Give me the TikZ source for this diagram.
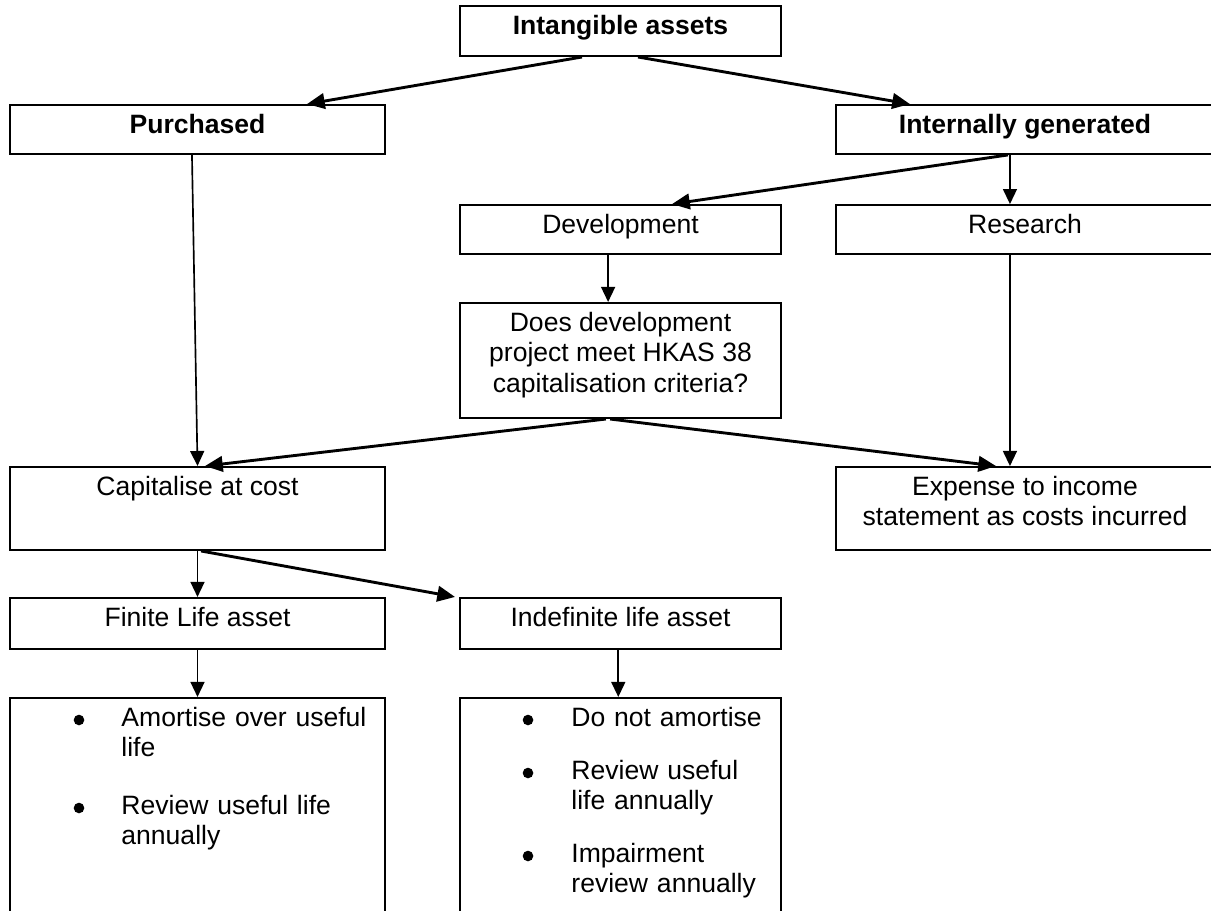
\documentclass[tikz,border=0pt]{standalone}
\usepackage{fontspec}
\setmainfont{Liberation Sans}
\usepackage{tikz}
\usetikzlibrary{arrows.meta,positioning}
\newcommand{\chartfont}{\fontsize{12}{13.8}\selectfont}
\tikzset{
  box/.style={draw=black,line width=0.9pt,inner sep=0pt},
  colL/.style={box,minimum width=169.5pt},
  colM/.style={box,minimum width=145.1pt},
  colR/.style={box,minimum width=170.9pt},
  boxtext/.style={inner sep=0pt,align=center},
  boldtext/.style={boxtext,font=\chartfont\bfseries},
  item/.style={inner sep=0pt,align=left,text width=115pt},
  dot/.style={circle,fill=black,inner sep=0pt,minimum size=4.8pt},
  arrow/.style={-{Triangle[length=8pt,width=7pt]},line width=1.3pt},
  thinArrow/.style={-{Triangle[length=6.8pt,width=6.3pt]},line width=0.75pt}
}

\begin{document}
\begin{tikzpicture}[x=0.452pt,y=-0.452pt,font=\chartfont]
  \useasboundingbox (0,0) rectangle (1211,910);
  \node[colM,minimum height=22.6pt] (top) at (620.5,31) {};
  \node[colL,minimum height=22.1pt] (purch) at (197.5,129.5) {};
  \node[colR,minimum height=22.1pt] (intern) at (1025,129.5) {};
  \node[colM,minimum height=22.1pt] (dev) at (620.5,229.5) {};
  \node[colR,minimum height=22.1pt] (res) at (1025,229.5) {};
  \node[colM,minimum height=52pt] (crit) at (620.5,360.5) {};
  \node[colL,minimum height=37.5pt] (cap) at (197.5,508.5) {};
  \node[colR,minimum height=37.5pt] (exp) at (1025,508.5) {};
  \node[colL,minimum height=23.1pt] (fin) at (197.5,623.5) {};
  \node[colM,minimum height=23.1pt] (indef) at (620.5,623.5) {};
  \node[colL,minimum height=104.9pt] (finbox) at (197.5,814) {};
  \node[colM,minimum height=104.9pt] (indefbox) at (620.5,814) {};

  \node[boldtext,below=4.3pt of top.north] (topT) {Intangible assets};
  \node[boldtext,below=4.3pt of purch.north] (purchT) {Purchased};
  \node[boldtext,below=4.3pt of intern.north] (internT) {Internally generated};
  \node[boxtext,below=4.3pt of dev.north] (devT) {Development};
  \node[boxtext,below=4.3pt of res.north] (resT) {Research};
  \node[boxtext,below=4.3pt of crit.north] (critT) {Does development\\project meet HKAS 38\\capitalisation criteria?};
  \node[boxtext,below=4.3pt of cap.north] (capT) {Capitalise at cost};
  \node[boxtext,below=4.3pt of exp.north] (expT) {Expense to income\\statement as costs incurred};
  \node[boxtext,below=4.3pt of fin.north] (finT) {Finite Life asset};
  \node[boxtext,below=4.3pt of indef.north] (indefT) {Indefinite life asset};

  \node[item,anchor=base west] (fin1) at (121,726) {Amortise over useful\\life};
  \node[item,anchor=base west] (fin2) at (121,814) {Review useful life\\annually};
  \node[item,text width=90pt,anchor=base west] (indef1) at (571,726) {Do not amortise};
  \node[item,text width=90pt,anchor=base west] (indef2) at (571,779) {Review useful\\life annually};
  \node[item,text width=90pt,anchor=base west] (indef3) at (571,862) {Impairment\\review annually};
  \node[dot] (fin1d) at (79,720) {};
  \node[dot] (fin2d) at (79,808) {};
  \node[dot] (indef1d) at (528,720) {};
  \node[dot] (indef2d) at (528,773) {};
  \node[dot] (indef3d) at (528,856) {};

  \draw[arrow] ([xshift=-17.4pt]top.south) -- ([xshift=49.5pt]purch.north);
  \draw[arrow] ([xshift=7.9pt]top.south) -- ([xshift=-52pt]intern.north);
  \draw[thinArrow] ([xshift=-2.5pt]purch.south) -- (cap.north);
  \draw[arrow] ([xshift=-7.7pt]intern.south) -- ([xshift=23.3pt]dev.north);
  \draw[thinArrow] ([xshift=-6.8pt]intern.south) -- ([xshift=-6.8pt]res.north);
  \draw[thinArrow] ([xshift=-5.6pt]dev.south) -- ([xshift=-5.6pt]crit.north);
  \draw[thinArrow] ([xshift=-6.8pt]res.south) -- ([xshift=-6.8pt]exp.north);
  \draw[arrow] ([xshift=-6.6pt]crit.south) -- ([xshift=3.4pt]cap.north);
  \draw[arrow] ([xshift=-4.7pt]crit.south) -- ([xshift=-13.1pt]exp.north);
  \draw[thinArrow] (cap.south) -- (fin.north);
  \draw[arrow] ([xshift=1.6pt]cap.south) -- ([xshift=-1.8pt]indef.north west);
  \draw[thinArrow] (fin.south) -- (finbox.north);
  \draw[thinArrow] ([xshift=-1pt]indef.south) -- ([xshift=-1pt]indefbox.north);
\end{tikzpicture}
\end{document}
